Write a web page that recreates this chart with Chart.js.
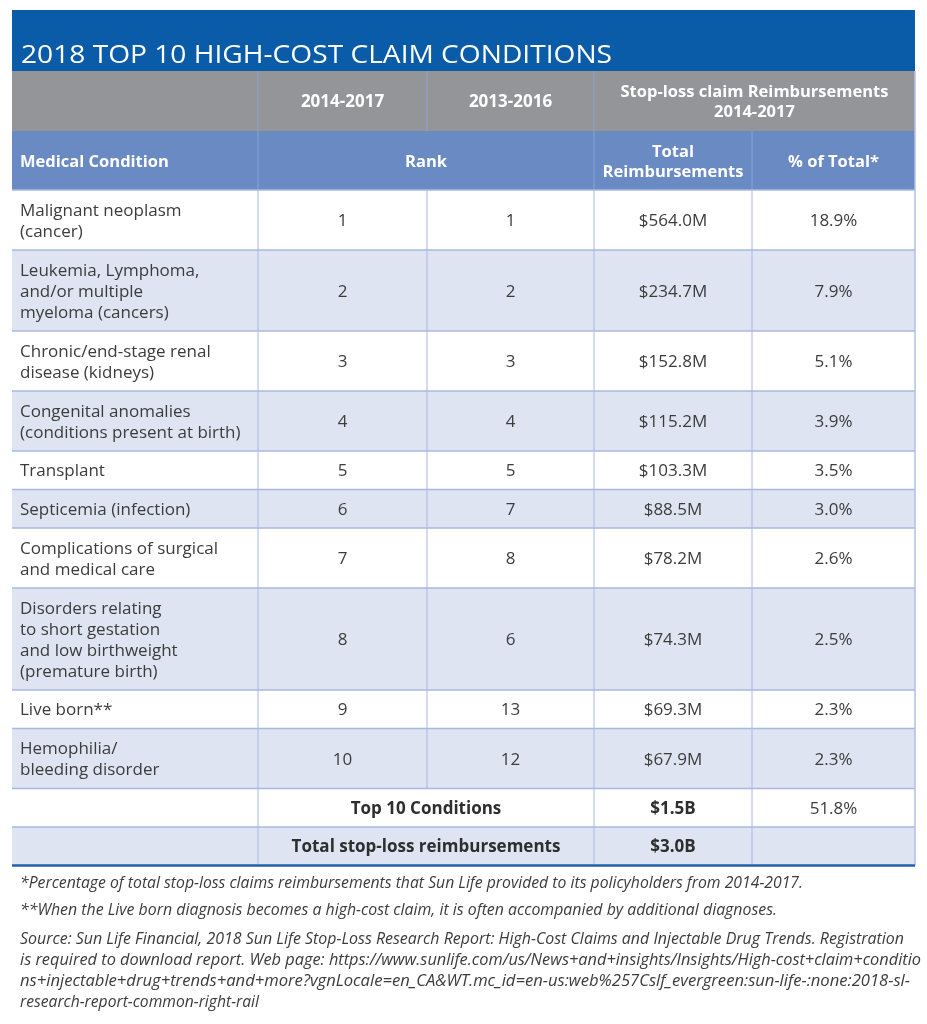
<!DOCTYPE html>
<html>
<head>
<meta charset="utf-8">
<title>2018 Top 10 High-Cost Claim Conditions</title>
<script src="https://cdn.jsdelivr.net/npm/chart.js@4.4.0/dist/chart.umd.min.js"></script>
<style>
    html, body { margin: 0; padding: 0; background: #ffffff; }
    canvas { display: block; }
</style>
</head>
<body>
<canvas id="HighCostChart" width="927" height="1024"></canvas>
<script>
// table content
var titleText = "2018 TOP 10 HIGH-COST CLAIM CONDITIONS";
var periodLabels = ["2014-2017", "2013-2016"];
var stopLossLabel = ["Stop-loss claim Reimbursements", "2014-2017"];
var columnLabels = ["Medical Condition", "Rank", ["Total", "Reimbursements"], "% of Total*"];

var conditions = [
    ["Malignant neoplasm", "(cancer)"],
    ["Leukemia, Lymphoma,", "and/or multiple", "myeloma (cancers)"],
    ["Chronic/end-stage renal", "disease (kidneys)"],
    ["Congenital anomalies", "(conditions present at birth)"],
    ["Transplant"],
    ["Septicemia (infection)"],
    ["Complications of surgical", "and medical care"],
    ["Disorders relating", "to short gestation", "and low birthweight", "(premature birth)"],
    ["Live born**"],
    ["Hemophilia/", "bleeding disorder"]
];
var rank2014to2017 = [1, 2, 3, 4, 5, 6, 7, 8, 9, 10];
var rank2013to2016 = [1, 2, 3, 4, 5, 7, 8, 6, 13, 12];
var reimbursementsM = [564.0, 234.7, 152.8, 115.2, 103.3, 88.5, 78.2, 74.3, 69.3, 67.9];
var percentOfTotal = [18.9, 7.9, 5.1, 3.9, 3.5, 3.0, 2.6, 2.5, 2.3, 2.3];

var top10Label = "Top 10 Conditions";
var top10ReimbursementsB = 1.5;
var top10Percent = 51.8;
var totalLabel = "Total stop-loss reimbursements";
var totalReimbursementsB = 3.0;

var footnotes = [
    "*Percentage of total stop-loss claims reimbursements that Sun Life provided to its policyholders from 2014-2017.",
    "**When the Live born diagnosis becomes a high-cost claim, it is often accompanied by additional diagnoses."
];
var sourceLines = [
    "Source: Sun Life Financial, 2018 Sun Life Stop-Loss Research Report: High-Cost Claims and Injectable Drug Trends. Registration",
    "is required to download report. Web page: https://www.sunlife.com/us/News+and+insights/Insights/High-cost+claim+conditio",
    "ns+injectable+drug+trends+and+more?vgnLocale=en_CA&WT.mc_id=en-us:web%257Cslf_evergreen:sun-life-:none:2018-sl-",
    "research-report-common-right-rail"
];

// layout (in scale units)
var colEdges = [12, 258, 427, 594, 752, 915];
var footnoteWidths = [783, 757];
var sourceWidths = [884, 901, 890, 239];

var FONT = "'Open Sans', 'Noto Sans', sans-serif";
var textColor = "#3c3c3c";
var gridColor = "#a9b8e1";

function money(v, unit) { return "$" + v.toFixed(1) + unit; }

var tablePlugin = {
    id: "tablePlugin",
    beforeDatasetsDraw: function (chart) {
        var ctx = chart.ctx;
        var xs = chart.scales.x, ys = chart.scales.y;
        function px(v) { return xs.getPixelForValue(v); }
        function py(v) { return ys.getPixelForValue(v); }

        function box(x0, y0, x1, y1, color) {
            ctx.fillStyle = color;
            ctx.fillRect(px(x0), py(y0), px(x1) - px(x0), py(y1) - py(y0));
        }
        function line(x0, y0, x1, y1, color, w) {
            ctx.save();
            ctx.strokeStyle = color;
            ctx.lineWidth = w || 1;
            ctx.beginPath();
            ctx.moveTo(px(x0), py(y0));
            ctx.lineTo(px(x1), py(y1));
            ctx.stroke();
            ctx.restore();
        }
        // y is the visual middle of the capitals
        function text(str, x, y, size, style, color, align, fitWidth) {
            ctx.save();
            ctx.font = style + " " + size + "px " + FONT;
            ctx.fillStyle = color;
            ctx.textAlign = align || "left";
            ctx.textBaseline = "alphabetic";
            var X = px(x), Y = py(y) + size * 0.357;
            if (fitWidth) {
                var w = ctx.measureText(str).width;
                var k = (px(x + fitWidth) - X) / w;
                ctx.translate(X, Y);
                ctx.scale(k, 1);
                ctx.fillText(str, 0, 0);
            } else {
                ctx.fillText(str, X, Y);
            }
            ctx.restore();
        }
        function mid(a, b) { return (colEdges[a] + colEdges[b]) / 2; }

        var left = colEdges[0], right = colEdges[5];
        var body = 17;

        // title band
        box(left, 10, right, 71, "#0a5ca9");
        text(titleText, 21, 54.5, 25, "normal", "#ffffff", "left", 591);

        // grey period band
        box(left, 71, right, 131, "#939598");
        [1, 2, 3].forEach(function (i) { line(colEdges[i], 71, colEdges[i], 131, "#8fa2d4"); });
        text(periodLabels[0], mid(1, 2), 101, 17, "bold", "#ffffff", "center");
        text(periodLabels[1], mid(2, 3), 101, 17, "bold", "#ffffff", "center");
        text(stopLossLabel[0], mid(3, 5), 91, 16.5, "bold", "#ffffff", "center");
        text(stopLossLabel[1], mid(3, 5), 111.5, 16.5, "bold", "#ffffff", "center");

        // column header band
        box(left, 131, right, 190, "#6a8ac4");
        [1, 3, 4].forEach(function (i) { line(colEdges[i], 131, colEdges[i], 190, "#88a1d6"); });
        text(columnLabels[0], 20, 161, 16.5, "bold", "#ffffff", "left");
        text(columnLabels[1], mid(1, 3), 161, 16.5, "bold", "#ffffff", "center");
        text(columnLabels[2][0], mid(3, 4), 151, 16.5, "bold", "#ffffff", "center");
        text(columnLabels[2][1], mid(3, 4), 171.5, 16.5, "bold", "#ffffff", "center");
        text(columnLabels[3], mid(4, 5), 161, 16.5, "bold", "#ffffff", "center");

        // body rows
        var top = 190;
        var rowTops = [];
        conditions.forEach(function (lines, r) {
            var n = lines.length;
            var h = n === 1 ? 38.5 : 18 + 21 * n;
            var bottom = top + h;
            var cy = top + h / 2;
            rowTops.push(top);
            if (r % 2 === 1) box(left, top, right, bottom, "#dfe4f2");
            lines.forEach(function (s, i) {
                text(s, 20, cy + (i - (n - 1) / 2) * 21, body, "normal", textColor, "left");
            });
            text(String(rank2014to2017[r]), mid(1, 2), cy, body, "normal", textColor, "center");
            text(String(rank2013to2016[r]), mid(2, 3), cy, body, "normal", textColor, "center");
            text(money(reimbursementsM[r], "M"), mid(3, 4), cy, body, "normal", textColor, "center");
            text(percentOfTotal[r].toFixed(1) + "%", mid(4, 5), cy, body, "normal", textColor, "center");
            [1, 2, 3, 4].forEach(function (i) { line(colEdges[i], top, colEdges[i], bottom, gridColor); });
            top = bottom;
        });

        // summary rows
        var sumTop = top;
        var t1 = sumTop + 38.5, t2 = t1 + 38.5;
        box(left, t1, right, t2, "#dfe4f2");
        text(top10Label, mid(1, 3), (sumTop + t1) / 2, body, "bold", "#2e2e2e", "center");
        text(money(top10ReimbursementsB, "B"), mid(3, 4), (sumTop + t1) / 2, body, "bold", "#2e2e2e", "center");
        text(top10Percent.toFixed(1) + "%", mid(4, 5), (sumTop + t1) / 2, body, "normal", textColor, "center");
        text(totalLabel, mid(1, 3), (t1 + t2) / 2, body, "bold", "#2e2e2e", "center");
        text(money(totalReimbursementsB, "B"), mid(3, 4), (t1 + t2) / 2, body, "bold", "#2e2e2e", "center");
        [1, 3, 4].forEach(function (i) { line(colEdges[i], sumTop, colEdges[i], t2, gridColor); });

        // horizontal rules
        rowTops.concat([sumTop, t1]).forEach(function (y) {
            line(left, y, right, y, gridColor, 1.5);
        });
        line(right, 71, right, t2, "#b3bfe6", 1.5);
        line(left, t2, right, t2, "#1f60ae", 2.5);

        // notes
        footnotes.forEach(function (s, i) {
            text(s, 20, 882 + i * 27, 15.5, "italic", textColor, "left", footnoteWidths[i]);
        });
        sourceLines.forEach(function (s, i) {
            text(s, 20, 938 + i * 21.3, 15.5, "italic", textColor, "left", sourceWidths[i]);
        });
    }
};

new Chart("HighCostChart", {
    type: "scatter",
    data: {
        datasets: [{ data: [] }]
    },
    options: {
        responsive: false,
        animation: false,
        devicePixelRatio: 1,
        layout: { padding: 0 },
        plugins: {
            legend: { display: false },
            tooltip: { enabled: false }
        },
        scales: {
            x: { type: "linear", min: 0, max: 927, display: false },
            y: { type: "linear", min: 0, max: 1024, reverse: true, display: false }
        }
    },
    plugins: [tablePlugin]
});
</script>
</body>
</html>
